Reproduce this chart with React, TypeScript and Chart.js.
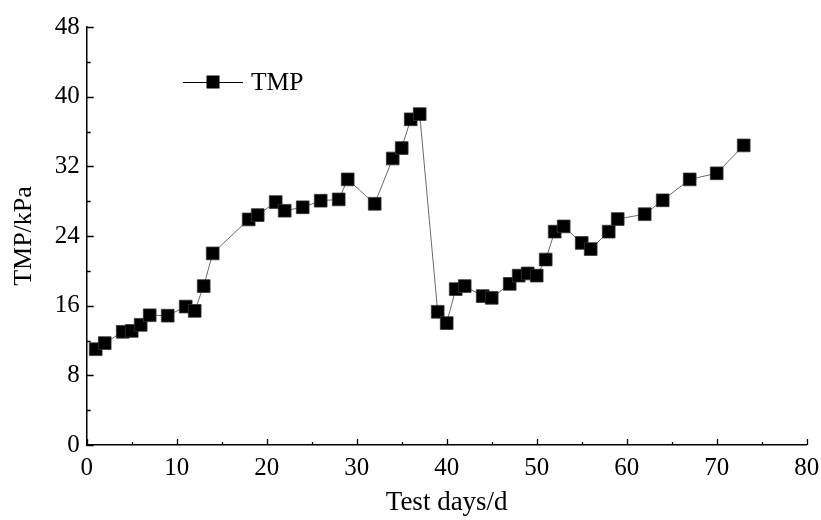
import React, { useEffect, useRef } from "react";
import { Chart, registerables } from "chart.js";

Chart.register(...registerables);

const days = [1, 2, 4, 5, 6, 7, 9, 11, 12, 13, 14, 18, 19, 21, 22, 24, 26, 28, 29, 32, 34, 35, 36, 37, 39, 40, 41, 42, 44, 45, 47, 48, 49, 50, 51, 52, 53, 55, 56, 58, 59, 62, 64, 67, 70, 73];
const tmp = [11.0, 11.7, 13.0, 13.1, 13.8, 14.9, 14.85, 15.9, 15.4, 18.25, 22.0, 25.9, 26.4, 27.9, 26.9, 27.3, 28.05, 28.2, 30.5, 27.7, 32.9, 34.1, 37.4, 38.0, 15.3, 14.0, 17.9, 18.25, 17.1, 16.9, 18.5, 19.45, 19.7, 19.45, 21.3, 24.5, 25.1, 23.2, 22.5, 24.5, 25.95, 26.5, 28.1, 30.5, 31.2, 34.4];

const seriesLabel = "TMP";
const xTitle = "Test days/d";
const yTitle = "TMP/kPa";
const xMin = 0, xMax = 80, xStep = 10, xMinor = 5;
const yMin = 0, yMax = 48, yStep = 8, yMinor = 4;

const FONT = "'Liberation Serif', 'Times New Roman', serif";

const tickMarks = {
  id: "tickMarks",
  afterDraw(chart: any) {
    const { ctx, chartArea, scales } = chart;
    const x = scales.x, y = scales.y;
    ctx.save();
    ctx.strokeStyle = "#000";
    ctx.lineWidth = 1.3;
    ctx.beginPath();
    for (let v = xMin; v <= xMax; v += xMinor) {
      const px = Math.round(x.getPixelForValue(v)) + 0.5;
      const len = v % xStep === 0 ? 6 : 3;
      ctx.moveTo(px, chartArea.bottom);
      ctx.lineTo(px, chartArea.bottom - len);
    }
    for (let v = yMin; v <= yMax; v += yMinor) {
      const py = Math.round(y.getPixelForValue(v)) + 0.5;
      const len = v % yStep === 0 ? 7 : 4;
      ctx.moveTo(chartArea.left, py);
      ctx.lineTo(chartArea.left + len, py);
    }
    ctx.stroke();
    ctx.restore();
  },
};

const lineLegend = {
  id: "lineLegend",
  afterDraw(chart: any) {
    const { ctx } = chart;
    const ds = chart.data.datasets[0];
    const cy = 82;
    ctx.save();
    ctx.strokeStyle = "#000";
    ctx.lineWidth = 1;
    ctx.beginPath();
    ctx.moveTo(183, cy + 0.5);
    ctx.lineTo(243, cy + 0.5);
    ctx.stroke();
    ctx.fillStyle = "#000";
    ctx.fillRect(213 - 6.5, cy - 6.5, 13, 13);
    ctx.font = "25.5px " + FONT;
    ctx.textAlign = "left";
    ctx.textBaseline = "middle";
    ctx.fillStyle = "#000";
    ctx.fillText(ds.label, 251, cy + 1);
    ctx.restore();
  },
};

export default function App() {
  const ref = useRef<HTMLCanvasElement | null>(null);

  useEffect(() => {
    if (!ref.current) return;
    const chart = new Chart(ref.current, {
      type: "line",
      data: {
        datasets: [
          {
            label: seriesLabel,
            data: days.map((d, i) => ({ x: d, y: tmp[i] })),
            borderColor: "#6a6a6a",
            borderWidth: 1,
            backgroundColor: "#000",
            pointStyle: "rect",
            pointRadius: 9,
            pointBorderWidth: 0.8,
            pointBorderColor: "#333",
            pointBackgroundColor: "#000",
            tension: 0,
          },
        ],
      },
      options: {
        animation: false,
        responsive: false,
        maintainAspectRatio: false,
        devicePixelRatio: 1,
        layout: { padding: { left: 0, right: 14.3, top: 27, bottom: 0 } },
        plugins: {
          legend: { display: false },
          tooltip: { enabled: false },
        },
        scales: {
          x: {
            type: "linear",
            min: xMin,
            max: xMax,
            grid: { display: false, drawTicks: false },
            border: { display: true, color: "#000", width: 1.5 },
            ticks: {
              stepSize: xStep,
              color: "#000",
              padding: 8,
              maxRotation: 0,
              font: { family: FONT, size: 25 },
            },
            title: {
              display: true,
              text: xTitle,
              color: "#000",
              font: { family: FONT, size: 27 },
              padding: { top: 0, bottom: 1 },
            },
            afterFit(scale: any) {
              scale.height = 75;
              scale.paddingLeft = 0;
              scale.paddingRight = 0;
            },
          },
          y: {
            min: yMin,
            max: yMax,
            grid: { display: false, drawTicks: false },
            border: { display: true, color: "#000", width: 1.5 },
            ticks: {
              stepSize: yStep,
              color: "#000",
              padding: 7,
              font: { family: FONT, size: 25 },
            },
            title: {
              display: true,
              text: yTitle,
              color: "#000",
              font: { family: FONT, size: 26 },
              padding: { top: 9, bottom: 0 },
            },
            afterFit(scale: any) {
              scale.width = 86.7;
              scale.paddingTop = 0;
              scale.paddingBottom = 0;
            },
          },
        },
      },
      plugins: [tickMarks, lineLegend],
    });
    return () => chart.destroy();
  }, []);

  return (
    <div style={{ position: "absolute", left: 0, top: 0, width: 821, height: 520, background: "#fff" }}>
      <canvas ref={ref} width={821} height={520} />
    </div>
  );
}
